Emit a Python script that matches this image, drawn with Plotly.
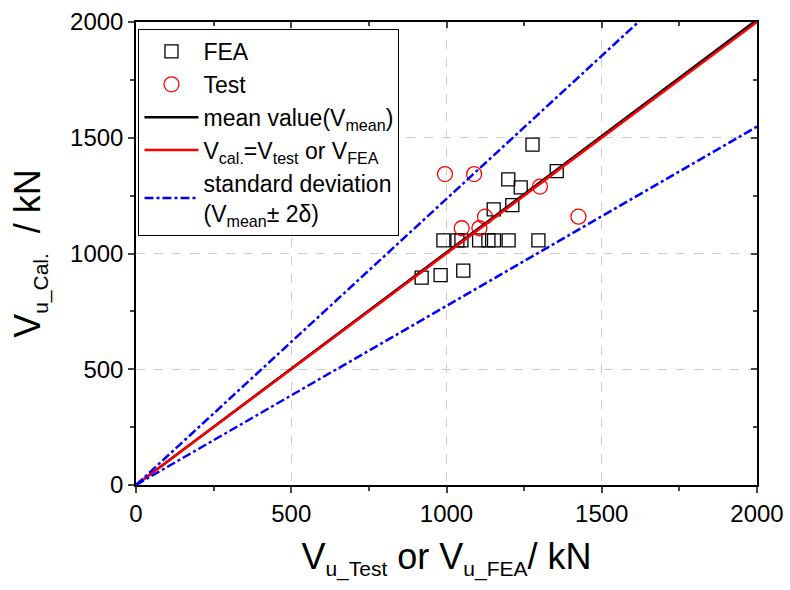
import plotly.graph_objects as go

# Data
fea_x = [920, 981, 1054, 990, 1035, 1048, 1105, 1135, 1153, 1200, 1296,
         1152, 1212, 1239, 1199, 1355, 1277]
fea_y = [896, 907, 926, 1057, 1057, 1057, 1057, 1057, 1057, 1057, 1057,
         1191, 1209, 1286, 1320, 1356, 1470]
test_x = [995, 1089, 1049, 1106, 1124, 1301, 1425]
test_y = [1343, 1343, 1109, 1109, 1159, 1289, 1159]

mean_slope = 1.005
two_delta = 0.231
line_x = [0, 2000]
mean_y = [v * mean_slope for v in line_x]
equal_y = line_x
upper_y = [v * (mean_slope + two_delta) for v in line_x]
lower_y = [v * (mean_slope - two_delta) for v in line_x]

FONT = "Liberation Sans, Arial, sans-serif"


def sub(t, px):
    return f"<sub><span style='font-size:{px}px'>{t}</span></sub>"


fig = go.Figure()
fig.add_trace(go.Scatter(x=fea_x, y=fea_y, mode="markers", name="FEA",
                         marker=dict(symbol="square-open", size=13, color="black",
                                     line=dict(width=1.3))))
fig.add_trace(go.Scatter(x=test_x, y=test_y, mode="markers", name="Test",
                         marker=dict(symbol="circle-open", size=15, color="red",
                                     line=dict(width=1.3))))
fig.add_trace(go.Scatter(x=line_x, y=mean_y, mode="lines", name="mean value(V<sub>mean</sub>)",
                         line=dict(color="black", width=2.5)))
fig.add_trace(go.Scatter(x=line_x, y=equal_y, mode="lines",
                         name="V<sub>cal.</sub>=V<sub>test</sub> or V<sub>FEA</sub>",
                         line=dict(color="red", width=2.5)))
fig.add_trace(go.Scatter(x=line_x, y=upper_y, mode="lines",
                         name="standard deviation<br>(V<sub>mean</sub>± 2δ)",
                         line=dict(color="blue", width=2.5, dash="dashdot")))
fig.add_trace(go.Scatter(x=line_x, y=lower_y, mode="lines", showlegend=False,
                         line=dict(color="blue", width=2.5, dash="dashdot")))
# dummy trace for mirrored inside-tick axes
fig.add_trace(go.Scatter(x=[None], y=[None], xaxis="x2", yaxis="y2",
                         showlegend=False, hoverinfo="skip"))

common = dict(range=[0, 2000], dtick=500, tick0=0, showline=True, linecolor="black",
              linewidth=1.5, zeroline=False, automargin=False)

fig.update_layout(
    width=790, height=590,
    margin=dict(l=136, r=33, t=22, b=105),
    plot_bgcolor="white", paper_bgcolor="white",
    font=dict(family=FONT, color="black"),
    showlegend=True,
    legend=dict(x=0.004, y=0.985, xanchor="left", yanchor="top",
                bgcolor="white", bordercolor="black", borderwidth=1,
                font=dict(size=23, family=FONT), tracegroupgap=0,
                itemwidth=54),
    xaxis=dict(**common, ticks="outside", ticklen=6, tickwidth=1.5,
               tickfont=dict(size=24),
               showgrid=True, gridcolor="#cccccc", griddash="dash", gridwidth=1,
               minor=dict(dtick=250, ticks="outside", ticklen=4, tickwidth=1.5, showgrid=False),
               title=dict(text="V" + sub("u_Test", 21) + " or V" + sub("u_FEA", 21) + "/ kN",
                          font=dict(size=36), standoff=18)),
    yaxis=dict(**common, ticks="outside", ticklen=6, tickwidth=1.5,
               tickfont=dict(size=24),
               showgrid=True, gridcolor="#cccccc", griddash="dash", gridwidth=1,
               minor=dict(dtick=250, ticks="outside", ticklen=4, tickwidth=1.5, showgrid=False),
               title=dict(text="V" + sub("u_Cal.", 21) + "  / kN", font=dict(size=36),
                          standoff=18)),
    xaxis2=dict(**common, overlaying="x", side="top", ticks="inside", ticklen=6,
                tickwidth=1.5, showticklabels=False, showgrid=False,
                minor=dict(dtick=250, ticks="inside", ticklen=4, tickwidth=1.5)),
    yaxis2=dict(**common, overlaying="y", side="right", ticks="inside", ticklen=6,
                tickwidth=1.5, showticklabels=False, showgrid=False,
                minor=dict(dtick=250, ticks="inside", ticklen=4, tickwidth=1.5)),
)

fig.write_html("out.html")
